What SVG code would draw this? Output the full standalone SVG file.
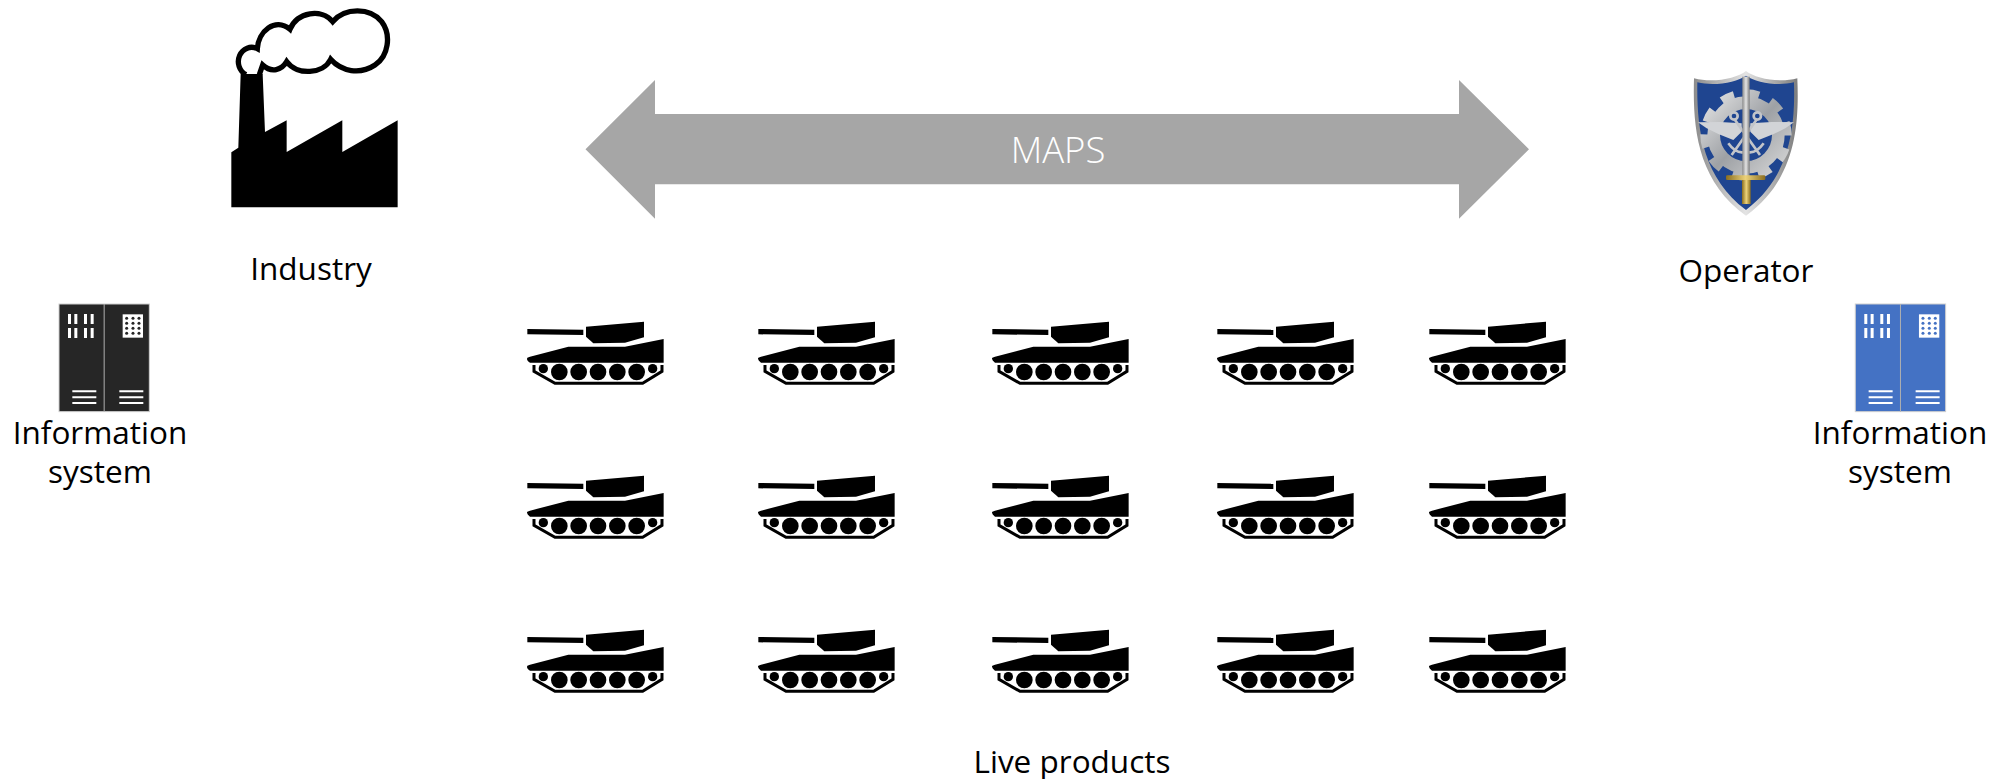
<svg xmlns="http://www.w3.org/2000/svg" width="2004" height="779" viewBox="0 0 2004 779">
<style>
text{font-family:"Open Sans","Noto Sans",sans-serif;font-size:31.5px;fill:#000;text-anchor:middle}
.w{fill:#fff}
.metal{fill:url(#steel)}
</style>
<defs>
<linearGradient id="steel" gradientUnits="userSpaceOnUse" x1="100" y1="100" x2="360" y2="350"><stop offset="0" stop-color="#e8e8e8"/><stop offset=".5" stop-color="#9ea1a5"/><stop offset="1" stop-color="#dcdcdc"/></linearGradient>
<linearGradient id="rim" x1="0" y1="0" x2="1" y2="0"><stop offset="0" stop-color="#8b8b8b"/><stop offset=".5" stop-color="#e4e4e4"/><stop offset="1" stop-color="#7c7c7c"/></linearGradient>
<linearGradient id="gold" x1="0" y1="0" x2="1" y2="0"><stop offset="0" stop-color="#8a6d1f"/><stop offset=".5" stop-color="#ecd27a"/><stop offset="1" stop-color="#8a6d1f"/></linearGradient>
<g id="tank" transform="scale(.3333)">
<path d="M52 57 220 59V75L52 73Z"/>
<path d="M228 50 402 35V82L345 98 250 100 228 80Z"/>
<path d="M60 140 175 110H345L461 87V158H60Q48 150 52 143Z"/>
<path d="M72 165V184L135 220H398L456 184V165" fill="none" stroke="#000" stroke-width="9"/>
<circle cx="100" cy="176" r="14"/><circle cx="148" cy="186" r="25"/><circle cx="206" cy="186" r="25"/><circle cx="264" cy="186" r="25"/><circle cx="322" cy="186" r="25"/><circle cx="380" cy="186" r="25"/><circle cx="428" cy="176" r="14"/>
</g>
<g id="server" transform="scale(.3333)">
<rect x="57" y="27" width="271" height="323" fill="currentColor" stroke="#cfcfcf" stroke-width="3"/>
<rect x="191" y="27" width="3" height="323" fill="#b0b0b0"/>
<path class="w" d="M84 57h9v30h-9zM103 57h9v30h-9zM132 57h9v30h-9zM152 57h9v30h-9zM84 99h9v30h-9zM103 99h9v30h-9zM132 99h9v30h-9zM152 99h9v30h-9z"/>
<path class="w" d="M97 286h72v6H97zM97 304h72v6H97zM97 321h72v6H97zM238 286h72v6h-72zM238 304h72v6h-72zM238 321h72v6h-72z"/>
<rect class="w" x="248" y="58" width="61" height="70"/>
<g fill="currentColor"><circle cx="260" cy="70" r="4.5"/><circle cx="279" cy="70" r="4.5"/><circle cx="297" cy="70" r="4.5"/><circle cx="260" cy="85" r="4.5"/><circle cx="279" cy="85" r="4.5"/><circle cx="297" cy="85" r="4.5"/><circle cx="260" cy="100" r="4.5"/><circle cx="279" cy="100" r="4.5"/><circle cx="297" cy="100" r="4.5"/><circle cx="260" cy="115" r="4.5"/><circle cx="279" cy="115" r="4.5"/><circle cx="297" cy="115" r="4.5"/></g>
</g>
</defs>

<g id="connectors">
<path d="M585.5 149.3 655 80V114H1459V80L1529 149.3 1459 218.7V184.3H655V218.7Z" fill="#a6a6a6"/>
</g>
<g id="maps-label"><text x="1058" y="162.5" style="fill:#fff;font-size:36.5px;font-weight:300">MAPS</text></g>

<g id="industry">
<g transform="translate(210,0) scale(.3333)">
<path d="M64 622V457L85 443 92 222H158L165 396 230 361V456L397 361V456L563 361V622Z"/>
<path d="M108 224A38 41 0 0 1 142 146C145 95 195 50 240 88 262 35 335 25 368 65 405 22 480 22 515 65 545 105 535 170 495 195 450 225 395 215 362 178 340 222 262 228 230 185 215 210 185 220 158 195L148 224" fill="none" stroke="#000" stroke-width="16"/>
</g>
<text x="311" y="280">Industry</text>
</g>

<g id="operator">
<g transform="translate(1670,60) scale(.3333)">
<path d="M228 33C200 55 130 70 72 55 68 200 80 360 228 467 376 360 388 200 382 55 326 70 256 55 228 33Z" fill="url(#rim)"/>
<path d="M228 47C200 66 135 80 82 67 80 200 95 350 228 450 361 350 376 200 372 67 321 80 256 66 228 47Z" fill="#1f4590"/>
<g fill="none" stroke="url(#steel)">
<circle cx="228" cy="225" r="97" stroke-width="38"/>
<path stroke-width="24" stroke-dasharray="40 38.5" d="M228 100A125 125 0 1 1 227.9 100"/>
</g>
<path d="M84 187 150 186 215 190V215L190 240 145 222 110 205ZM372 187 306 186 241 190V215L266 240 311 222 346 205Z" fill="#d2d4d7"/>
<g fill="none" stroke="#c3c5c9" stroke-width="8">
<circle cx="192" cy="168" r="11"/><circle cx="262" cy="168" r="11"/>
<path d="M195 180 270 285M259 180 185 285M175 250Q200 285 228 275M281 250Q256 285 228 275"/>
</g>
<rect x="217" y="50" width="22" height="300" fill="url(#rim)"/>
<rect x="168" y="346" width="118" height="14" rx="4" fill="url(#gold)"/>
<rect x="216" y="360" width="26" height="72" fill="url(#gold)"/>
</g>
<text x="1746" y="282">Operator</text>
</g>

<g id="is-left" color="#262626">
<use href="#server" transform="translate(40,295)"/>
<text x="100" y="444">Information</text>
<text x="100" y="483">system</text>
</g>
<g id="is-right" color="#4472c4">
<use href="#server" transform="translate(1836.3,295)"/>
<text x="1900" y="444">Information</text>
<text x="1900" y="483">system</text>
</g>

<g id="live-products">
<use href="#tank" transform="translate(510,310)"/><use href="#tank" transform="translate(741,310)"/><use href="#tank" transform="translate(975,310)"/><use href="#tank" transform="translate(1200,310)"/><use href="#tank" transform="translate(1412,310)"/>
<use href="#tank" transform="translate(510,464)"/><use href="#tank" transform="translate(741,464)"/><use href="#tank" transform="translate(975,464)"/><use href="#tank" transform="translate(1200,464)"/><use href="#tank" transform="translate(1412,464)"/>
<use href="#tank" transform="translate(510,618)"/><use href="#tank" transform="translate(741,618)"/><use href="#tank" transform="translate(975,618)"/><use href="#tank" transform="translate(1200,618)"/><use href="#tank" transform="translate(1412,618)"/>
<text x="1072" y="773">Live products</text>
</g>
</svg>
